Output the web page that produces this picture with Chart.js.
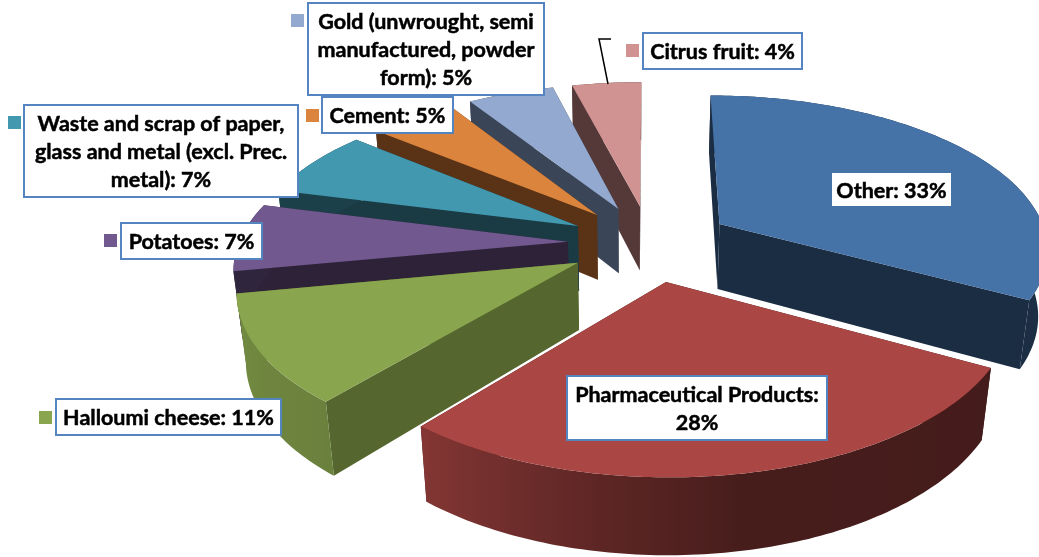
<!DOCTYPE html>
<html lang="en">

<head>
    <meta charset="UTF-8">
    <title>Exports pie</title>
    <script src="https://cdn.jsdelivr.net/npm/chart.js"></script>
    <style>
        html, body { margin: 0; padding: 0; background: #fff; }
        #grafico { display: block; }
    </style>
</head>

<body>
    <canvas id="grafico" width="1039" height="557"></canvas>

    <script>
        const categories = ["Other", "Pharmaceutical Products", "Halloumi cheese", "Potatoes",
            "Waste and scrap of paper, glass and metal (excl. Prec. metal)", "Cement",
            "Gold (unwrought, semi manufactured, powder form)", "Citrus fruit"];
        const shares = [33, 28, 11, 7, 7, 5, 5, 4];

        const topColors = ["#4572A7", "#AA4643", "#89A54E", "#71588F", "#4198AF", "#DB843D", "#93A9CF", "#D19392"];
        const cutColors = ["#1B2D43", "#451A18", "#55672E", "#2E2238", "#1A3A44", "#5A3316", "#3A4658", "#553838"];

        // label boxes: left, top, right, bottom
        const boxes = [
            [831, 172, 952, 207], [567, 376, 827, 440], [56, 399, 281, 435], [121, 223, 262, 259],
            [24, 105, 298, 197], [322, 97, 453, 133], [308, 3, 544, 95], [643, 33, 802, 69]
        ];
        // legend squares: left, top (null where it sits on its own slice)
        const keys = [null, null, [39, 411], [104, 234], [8, 116], [306, 109], [291, 14], [626, 44]];

        // camera of the 3D pie
        const centerX = 650, centerY = 243;
        const radiusX = 329, radiusY = 153, perspective = 0.15;
        const explode = 0.25;
        const vanishX = 630, vanishY = 3200;

        function project(x, y) {
            const w = 1 - perspective * y;
            return { x: centerX + radiusX * x / w, y: centerY + radiusY * y / w, w: w };
        }

        // point straight under a top point, on the bottom of the pie
        function under(p) {
            const h = 66 / Math.pow(p.w, 0.8);
            const t = h / (vanishY - p.y);
            return { x: p.x + (vanishX - p.x) * t, y: p.y + h };
        }

        function shade(hex, f) {
            const n = parseInt(hex.slice(1), 16);
            const r = Math.round((n >> 16) * f), g = Math.round(((n >> 8) & 255) * f), b = Math.round((n & 255) * f);
            return `rgb(${r},${g},${b})`;
        }

        // how light the outer wall is at an angle (degrees from the top)
        const wallLight = [[0, 0.4], [118, 0.4], [170, 0.42], [190, 0.55], [220, 0.78], [260, 0.85], [262, 0.42], [360, 0.42]];
        function lightAt(deg) {
            for (let i = 1; i < wallLight.length; i++) {
                if (deg <= wallLight[i][0]) {
                    const a = wallLight[i - 1], b = wallLight[i];
                    return a[1] + (b[1] - a[1]) * (deg - a[0]) / (b[0] - a[0]);
                }
            }
            return 0.4;
        }

        function fillPoly(ctx, pts, color) {
            ctx.beginPath();
            pts.forEach((p, i) => i ? ctx.lineTo(p.x, p.y) : ctx.moveTo(p.x, p.y));
            ctx.closePath();
            ctx.fillStyle = color;
            ctx.fill();
        }

        function drawSlice(ctx, arc, i) {
            const a0 = arc.startAngle + Math.PI / 2, a1 = arc.endAngle + Math.PI / 2;
            const mid = (a0 + a1) / 2;
            const ox = explode * Math.sin(mid), oy = -explode * Math.cos(mid);
            const apex = project(ox, oy);

            const rim = [];
            const steps = Math.max(4, Math.round((a1 - a0) * 180 / Math.PI));
            for (let s = 0; s <= steps; s++) {
                const a = a0 + (a1 - a0) * s / steps;
                const p = project(ox + Math.sin(a), oy - Math.cos(a));
                p.deg = a * 180 / Math.PI;
                rim.push(p);
            }

            // cut faces, then the outer wall, the top face covers whatever faces away
            fillPoly(ctx, [apex, rim[0], under(rim[0]), under(apex)], cutColors[i]);
            fillPoly(ctx, [apex, rim[steps], under(rim[steps]), under(apex)], cutColors[i]);

            const xs = rim.map(p => p.x);
            const x0 = Math.min(...xs), x1 = Math.max(...xs);
            const grad = ctx.createLinearGradient(x0, 0, x1, 0);
            // stops taken along the part of the rim that faces the viewer
            rim.forEach(p => {
                if (Math.cos(p.deg * Math.PI / 180) < 0.3) {
                    grad.addColorStop((p.x - x0) / (x1 - x0), shade(topColors[i], lightAt(p.deg)));
                }
            });
            grad.addColorStop(0, shade(topColors[i], lightAt(rim[rim.length - 1].deg)));
            const wall = rim.concat(rim.map(under).reverse());
            if (rim.some(p => Math.cos(p.deg * Math.PI / 180) < 0.3)) {
                fillPoly(ctx, wall, grad);
            } else {
                fillPoly(ctx, wall, cutColors[i]);
            }

            fillPoly(ctx, [apex].concat(rim), topColors[i]);
        }

        function wrapText(ctx, text, width) {
            const lines = [];
            let line = "";
            text.split(" ").forEach(word => {
                const test = line ? line + " " + word : word;
                if (line && ctx.measureText(test).width > width) {
                    lines.push(line);
                    line = word;
                } else {
                    line = test;
                }
            });
            lines.push(line);
            return lines;
        }

        const pie3d = {
            id: "pie3d",
            beforeDatasetsDraw(chart) {
                const ctx = chart.ctx;
                const arcs = chart.getDatasetMeta(0).data;
                // back to front
                const order = arcs.map((arc, i) => i).sort((a, b) => {
                    const ma = (arcs[a].startAngle + arcs[a].endAngle) / 2 + Math.PI / 2;
                    const mb = (arcs[b].startAngle + arcs[b].endAngle) / 2 + Math.PI / 2;
                    return -Math.cos(ma) + Math.cos(mb);
                });
                ctx.save();
                order.forEach(i => drawSlice(ctx, arcs[i], i));
                ctx.restore();
                return false;
            },
            afterDraw(chart) {
                const ctx = chart.ctx;
                ctx.save();

                // leader of the citrus label
                ctx.strokeStyle = "#000";
                ctx.lineWidth = 1.5;
                ctx.beginPath();
                ctx.moveTo(608, 84);
                ctx.lineTo(599, 39);
                ctx.lineTo(611, 39);
                ctx.stroke();

                ctx.font = "bold 21.5px Lato";
                ctx.textAlign = "center";
                ctx.textBaseline = "middle";
                categories.forEach((name, i) => {
                    const [l, t, r, b] = boxes[i];
                    if (keys[i]) {
                        ctx.fillStyle = topColors[i];
                        ctx.fillRect(keys[i][0], keys[i][1], 13, 13);
                    }
                    ctx.fillStyle = "#fff";
                    ctx.fillRect(l, t, r - l, b - t);
                    ctx.strokeStyle = i == 0 ? "#4572A7" : "#5485C0";
                    ctx.lineWidth = 2;
                    ctx.strokeRect(l, t, r - l, b - t);

                    const lines = wrapText(ctx, `${name}: ${shares[i]}%`, r - l - 8);
                    const top = (t + b) / 2 - (lines.length - 1) * 14;
                    ctx.fillStyle = "#000";
                    ctx.strokeStyle = "#000";
                    ctx.lineWidth = 0.5;
                    lines.forEach((text, n) => {
                        ctx.fillText(text, (l + r) / 2, top + n * 28 + 1.5);
                        ctx.strokeText(text, (l + r) / 2, top + n * 28 + 1.5);
                    });
                });
                ctx.restore();
            }
        };

        new Chart(document.getElementById("grafico"), {
            type: "pie",
            data: {
                labels: categories,
                datasets: [{ data: shares, backgroundColor: topColors, borderWidth: 0 }]
            },
            options: {
                responsive: false,
                animation: false,
                plugins: { legend: { display: false }, tooltip: { enabled: false } }
            },
            plugins: [pie3d]
        });
    </script>
</body>

</html>
